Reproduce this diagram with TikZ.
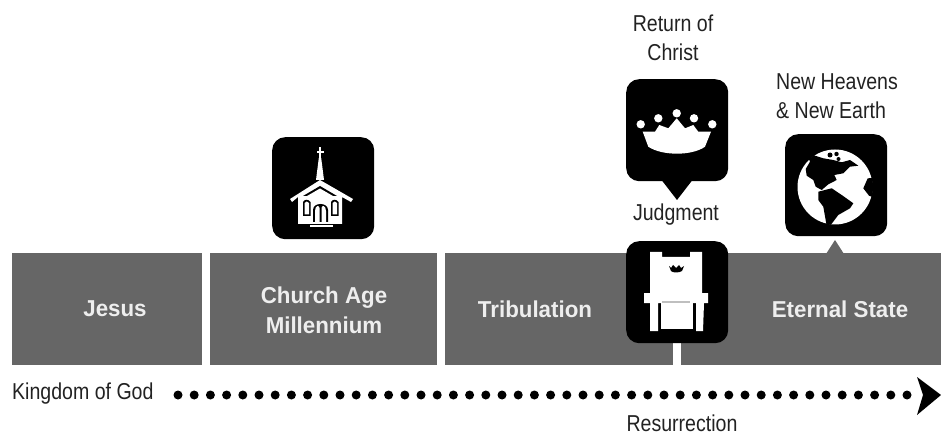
\documentclass[tikz,border=0pt]{standalone}
\usepackage{fontspec}
\setmainfont{Liberation Sans}
\newfontfamily\narrowf[FakeStretch=0.85]{Liberation Sans}
\newfontfamily\narrowb[FakeStretch=0.97]{Liberation Sans Bold}
\definecolor{barg}{HTML}{666666}
\definecolor{txtg}{HTML}{222222}
\definecolor{labw}{HTML}{EEEEEE}
\tikzset{
  barbox/.style={fill=barg,draw=none,minimum height=112pt,anchor=north west,inner sep=0pt},
  barlab/.style={text=labw,font=\narrowb\fontsize{23}{30}\selectfont,inner sep=0pt},
  icon/.style={fill=black,draw=none,rounded corners=13pt,minimum width=102pt,minimum height=102pt,anchor=north west,inner sep=0pt},
  captxt/.style={text=txtg,font=\narrowf\fontsize{23}{29}\selectfont,align=center,inner sep=0pt},
  art/.style={fill=white,draw=none},
  dotsline/.style={line width=9pt,line cap=round,dash pattern=on 0pt off 16.2pt,draw=black}
}
\begin{document}
\begin{tikzpicture}[x=1pt,y=-1pt]
\useasboundingbox (0,0) rectangle (941,435);
% bars
\node[barbox,minimum width=190pt] (jesus) at (12,253) {};
\node[barlab] (jesusl) at (115,309) {Jesus};
\node[barbox,minimum width=227pt] (church) at (210,253) {};
\node[barlab,align=center] (churchl) at (324,310) {Church Age\\Millennium};
\node[barbox,minimum width=228pt] (trib) at (445,253) {};
\node[barbox,minimum width=260pt] (eternal) at (681,253) {};
\node[barlab] (tribl) at (535,309) {Tribulation};
\node[barlab] (etl) at (840,309) {Eternal State};
% church icon
\node[icon] (churchicon) at (272,137) {};
\begin{scope}
\fill[art] (319,147) rectangle (321,160);
\fill[art] (316.5,151.5) rectangle (323.5,153.5);
\fill[art] (318.8,158) -- (321.2,158) -- (324,180) -- (316,180) -- cycle;
\fill[art] (320,180) -- (353,199) -- (351,202) -- (342,197) -- (342,224) -- (298,224) -- (298,197) -- (292,202) -- (290,199) -- cycle;
\fill[black] (320,186) -- (337,196) -- (303,196) -- cycle;
\fill[art] (320,188.5) -- (333,196) -- (307,196) -- cycle;
\fill[black] (303,202) .. controls (305,199) and (308,199) .. (310.5,202) -- (310.5,216) -- (303,216) -- cycle;
\fill[art] (304.5,203) .. controls (306,201) and (307.5,201) .. (309,203) -- (309,214.5) -- (304.5,214.5) -- cycle;
\fill[black] (331,202) .. controls (333,199) and (336,199) .. (338.5,202) -- (338.5,216) -- (331,216) -- cycle;
\fill[art] (332.5,203) .. controls (334,201) and (335.5,201) .. (337,203) -- (337,214.5) -- (332.5,214.5) -- cycle;
\fill[black] (313,222) -- (313,210) .. controls (313,202) and (328,202) .. (328,210) -- (328,222) -- cycle;
\fill[art] (315,222) -- (315,211) .. controls (315,205) and (319.5,205) .. (319.5,208) -- (319.5,222) -- cycle;
\fill[art] (321.5,222) -- (321.5,208) .. controls (321.5,205) and (326,205) .. (326,211) -- (326,222) -- cycle;
\fill[art] (310,225) rectangle (333,227.5);
\end{scope}
% crown icon with pointer
\fill[black] (660,178) -- (677,200) -- (694,178) -- cycle;
\node[icon] (crownicon) at (626,79) {};
\foreach \px/\py in {640.7/124.3,658.3/118.3,676.7/113.3,694/118.3,712.3/124.3}{\fill[art] (\px,\py) circle (4.2pt);}
\fill[art] (642.7,131.7) -- (655,131.7) -- (659.3,125) -- (668.3,128.3) -- (676.7,118.3) -- (685,128.3) -- (693.3,125) -- (698.3,131.7) -- (711,131.7) -- (705,146.7) .. controls (692,156) and (662,156) .. (648.3,146.7) -- cycle;
% globe icon with pointer
\fill[barg] (826,254) -- (835,240) -- (844,254) -- cycle;
\node[icon] (globeicon) at (785,134) {};
\fill[art] (835,187) circle (37.5pt);
\begin{scope}
\clip (835,187) circle (38pt);
% north america
\fill[black] (810,161.7) -- (805.7,169) -- (806.7,175.7) -- (813.3,180) -- (815.7,186.7) -- (821.7,190) -- (828.3,184.3) -- (836.7,180) -- (834.3,175) -- (843.3,173.3) -- (850,166.7) -- (858.3,165.7) -- (850,160) -- (841.7,162.3) -- (833.3,160) -- (823.3,158.3) -- (815,155.7) -- (805,150) -- cycle;
\fill[black] (830,155) circle (2.5pt);
\fill[black] (836.5,154) circle (2.2pt);
\fill[black] (838.5,159) circle (2pt);
% south america
\fill[black] (818.3,191.7) -- (831.7,188.3) -- (841.7,195) -- (853.3,203.3) -- (850,208.3) -- (838.3,215) -- (830,226) -- (826.7,226) -- (823.3,206.7) -- (818.3,200) -- cycle;
% right notch
\fill[black] (875,178) -- (867.7,178.3) -- (863.3,188.3) -- (869,195.7) -- (875,198) -- cycle;
\end{scope}
% throne icon
\node[icon] (throneicon) at (626,241) {};
\fill[white] (673,344) rectangle (681,365);
\fill[art] (650,252) -- (662,252) -- (662,257) -- (690,257) -- (690,252) -- (702,252) -- (702,293) -- (708,293) -- (708,303) -- (704,303) -- (703,331) -- (696,331) -- (696,303) -- (658,303) -- (658,331) -- (650,331) -- (650,303) -- (644,303) -- (644,293) -- (650,293) -- cycle;
\fill[art] (661,302) rectangle (693,329);
\fill[black] (669,266) -- (671,268) -- (673,265) -- (676,268) -- (679,265) -- (681,268) -- (684,266) -- (682,271) .. controls (679,273) and (673,273) .. (671,271) -- cycle;
\fill[black!25] (662,300.5) rectangle (690,303);
% captions
\node[captxt] (ret) at (673,38) {Return of\\Christ};
\node[captxt,align=left,anchor=west] (newh) at (776,96) {New Heavens\\\& New Earth};
\node[captxt] (judg) at (676,215) {Judgment};
\node[captxt,anchor=west] (king) at (12,394) {Kingdom of God};
\node[captxt] (res) at (682,423) {Resurrection};
% dotted arrow
\coordinate (dstart) at (178,395);
\coordinate (dend) at (921,395);
\draw[dotsline] (dstart) -- (dend);
\fill[black] (917,377) -- (941,395) -- (917,415) -- (923,395) -- cycle;
\end{tikzpicture}
\end{document}
